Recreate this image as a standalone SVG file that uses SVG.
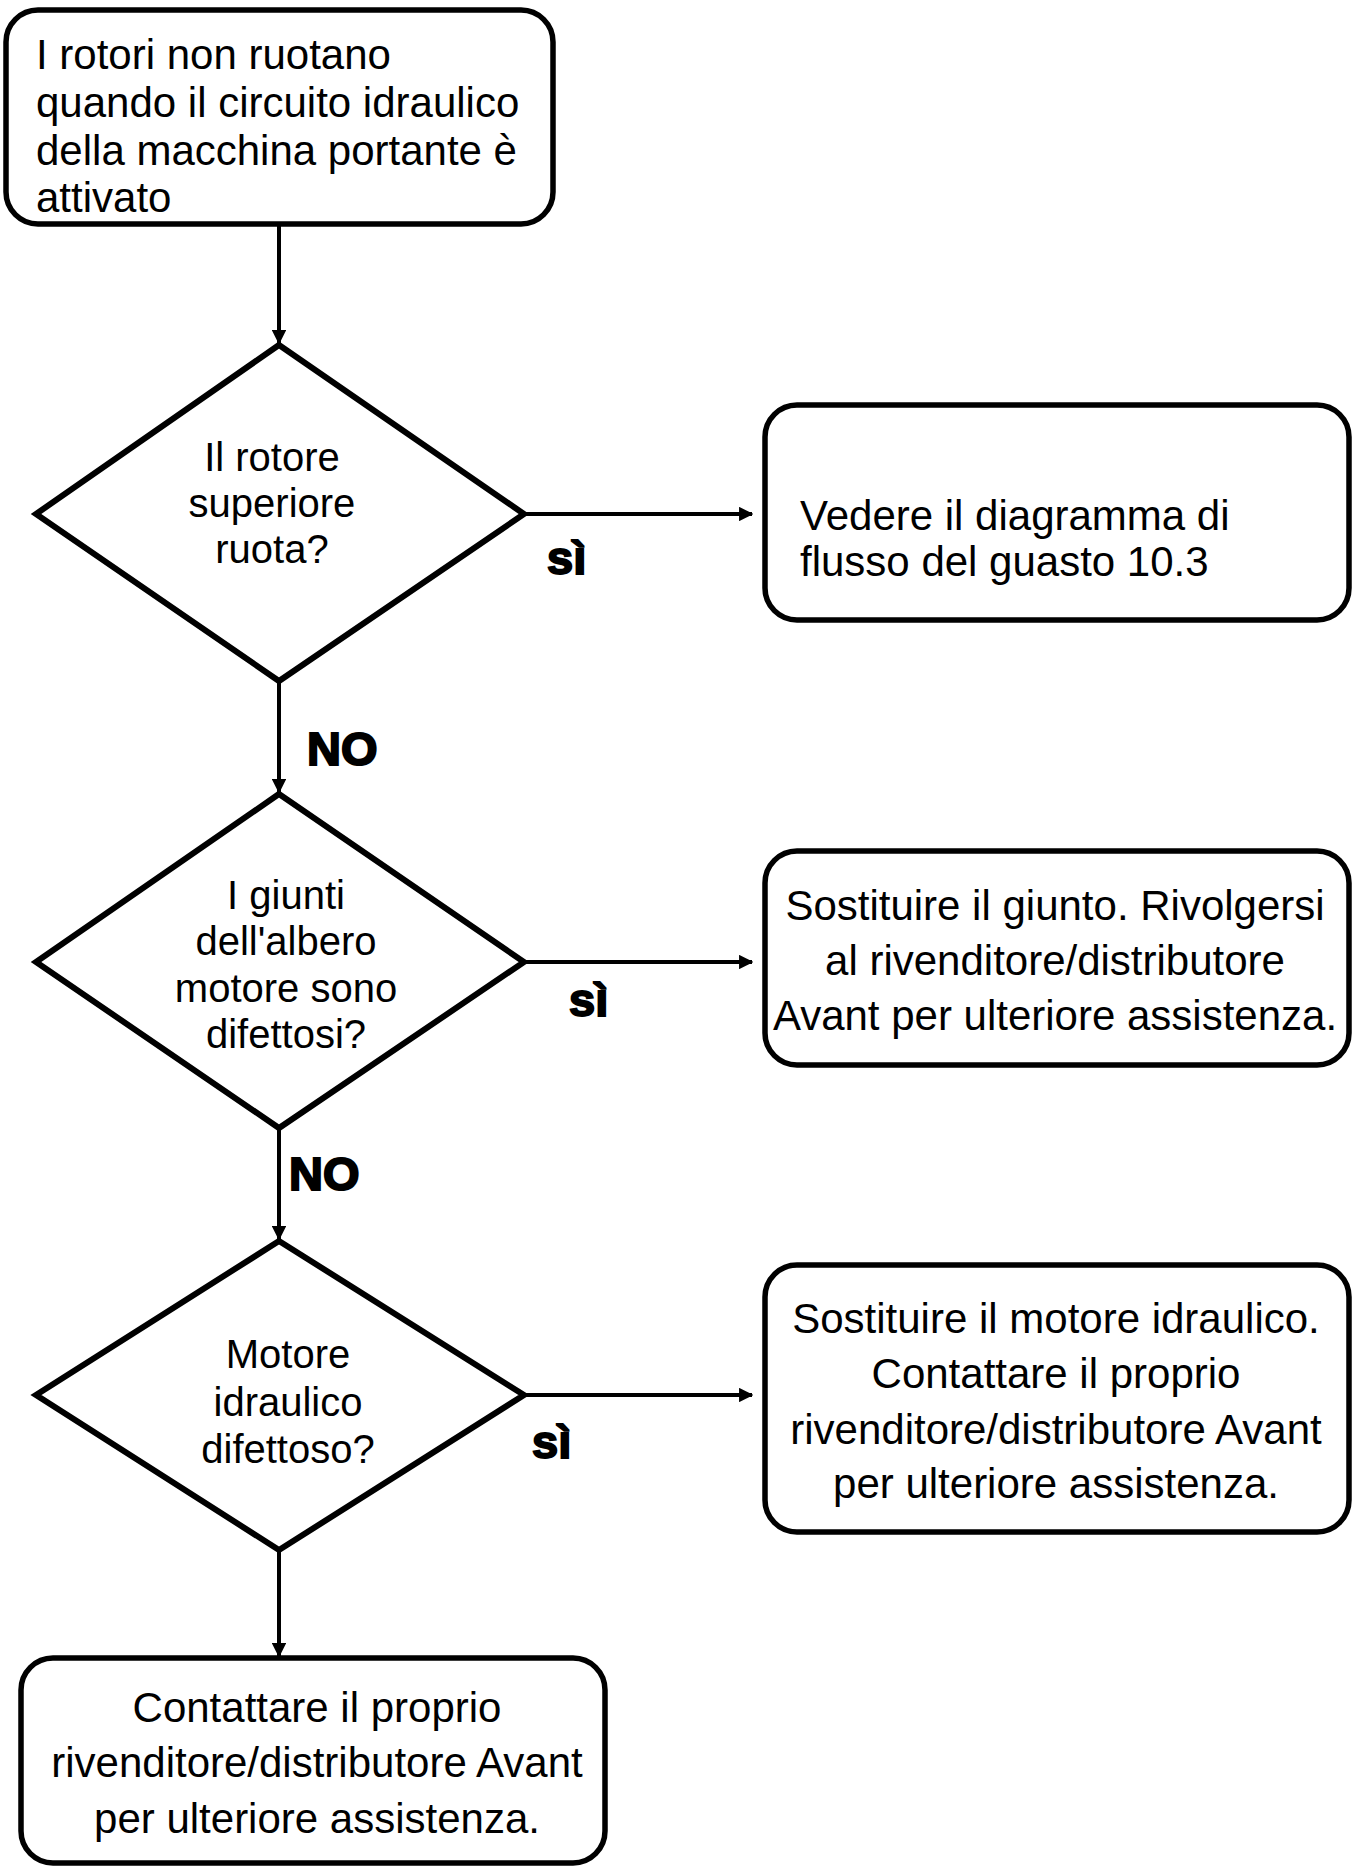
<svg xmlns="http://www.w3.org/2000/svg" width="1358" height="1867" viewBox="0 0 1358 1867">
<style>
.box{fill:#fff;stroke:#000;stroke-width:5.5}
.dia{fill:#fff;stroke:#000;stroke-width:6;stroke-linejoin:miter}
.t{font-family:"Liberation Sans",Arial,sans-serif;font-size:42px;fill:#000}
.c{text-anchor:middle}
.dt{font-family:"Liberation Sans",Arial,sans-serif;font-size:40px;fill:#000;text-anchor:middle}
.lbl{font-family:"Liberation Sans",Arial,sans-serif;font-size:47px;font-weight:bold;fill:#000;stroke:#000;stroke-width:2}
.edge{stroke:#000;stroke-width:4;fill:none}
</style>
<defs>
<marker id="ah" viewBox="0 0 10 10" refX="9" refY="5" markerWidth="3.6" markerHeight="3.6" orient="auto" markerUnits="strokeWidth">
<path d="M0,0 L10,5 L0,10 z" fill="#000"/>
</marker>
</defs>
<rect width="1358" height="1867" fill="#fff"/>
<g id="connectors">
<line class="edge" x1="279" y1="226" x2="279" y2="343" marker-end="url(#ah)"/>
<line class="edge" x1="524" y1="514" x2="752" y2="514" marker-end="url(#ah)"/>
<line class="edge" x1="279" y1="683" x2="279" y2="792" marker-end="url(#ah)"/>
<line class="edge" x1="524" y1="962" x2="752" y2="962" marker-end="url(#ah)"/>
<line class="edge" x1="279" y1="1130" x2="279" y2="1239" marker-end="url(#ah)"/>
<line class="edge" x1="524" y1="1395" x2="752" y2="1395" marker-end="url(#ah)"/>
<line class="edge" x1="279" y1="1552" x2="279" y2="1656" marker-end="url(#ah)"/>
<text class="lbl" x="547" y="574">sì</text>
<text class="lbl" x="307" y="765">NO</text>
<text class="lbl" x="569" y="1016">sì</text>
<text class="lbl" x="289" y="1190">NO</text>
<text class="lbl" x="532" y="1458">sì</text>
</g>
<g id="start">
<rect class="box" x="6" y="10" width="547" height="214" rx="32"/>
<text class="t" x="36" y="69">I rotori non ruotano</text>
<text class="t" x="36" y="117">quando il circuito idraulico</text>
<text class="t" x="36" y="165">della macchina portante è</text>
<text class="t" x="36" y="212">attivato</text>
</g>
<g id="q1">
<polygon class="dia" points="279,345 524,514 279,681 36,514"/>
<text class="dt" x="272" y="471">Il rotore</text>
<text class="dt" x="272" y="517">superiore</text>
<text class="dt" x="272" y="563">ruota?</text>
</g>
<g id="r1">
<rect class="box" x="765" y="405" width="584" height="215" rx="32"/>
<text class="t" x="800" y="530">Vedere il diagramma di</text>
<text class="t" x="800" y="576">flusso del guasto 10.3</text>
</g>
<g id="q2">
<polygon class="dia" points="279,794 524,962 279,1128 36,962"/>
<text class="dt" x="286" y="909">I giunti</text>
<text class="dt" x="286" y="955">dell'albero</text>
<text class="dt" x="286" y="1002">motore sono</text>
<text class="dt" x="286" y="1048">difettosi?</text>
</g>
<g id="r2">
<rect class="box" x="765" y="851" width="584" height="214" rx="32"/>
<text class="t c" x="1055" y="920">Sostituire il giunto. Rivolgersi</text>
<text class="t c" x="1055" y="975">al rivenditore/distributore</text>
<text class="t c" x="1055" y="1030">Avant per ulteriore assistenza.</text>
</g>
<g id="q3">
<polygon class="dia" points="279,1241 524,1395 279,1550 36,1395"/>
<text class="dt" x="288" y="1368">Motore</text>
<text class="dt" x="288" y="1416">idraulico</text>
<text class="dt" x="288" y="1463">difettoso?</text>
</g>
<g id="r3">
<rect class="box" x="765" y="1265" width="584" height="267" rx="32"/>
<text class="t c" x="1056" y="1333">Sostituire il motore idraulico.</text>
<text class="t c" x="1056" y="1388">Contattare il proprio</text>
<text class="t c" x="1056" y="1444">rivenditore/distributore Avant</text>
<text class="t c" x="1056" y="1498">per ulteriore assistenza.</text>
</g>
<g id="end">
<rect class="box" x="21" y="1658" width="584" height="205" rx="32"/>
<text class="t c" x="317" y="1722">Contattare il proprio</text>
<text class="t c" x="317" y="1777">rivenditore/distributore Avant</text>
<text class="t c" x="317" y="1833">per ulteriore assistenza.</text>
</g>
</svg>
